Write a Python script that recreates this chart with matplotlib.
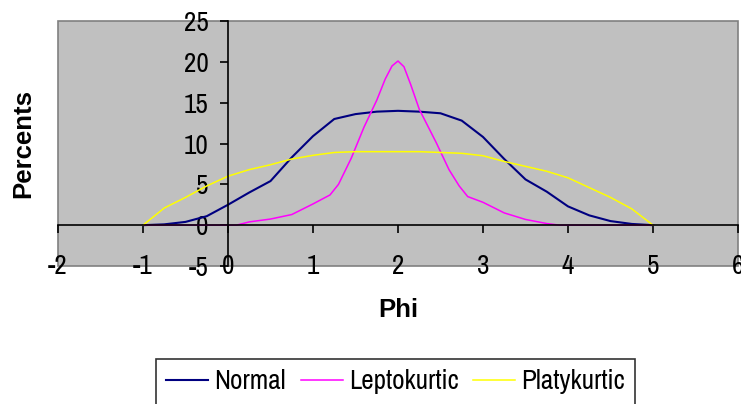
import matplotlib
matplotlib.use("Agg")
import matplotlib.pyplot as plt
from matplotlib import font_manager
from matplotlib.patches import Rectangle

plt.rcParams["axes.unicode_minus"] = False

# values
phi_normal = [-1, -0.75, -0.5, -0.25, 0, 0.25, 0.5, 0.75, 1.0, 1.25, 1.5, 1.75,
              2.0, 2.25, 2.5, 2.75, 3.0, 3.25, 3.5, 3.75, 4.0, 4.25, 4.5, 4.75, 5.0]
normal = [0, 0.1, 0.4, 1.1, 2.5, 4.0, 5.4, 8.3, 10.9, 13.0, 13.6, 13.9,
          14.0, 13.9, 13.7, 12.8, 10.8, 8.1, 5.6, 4.1, 2.3, 1.2, 0.5, 0.15, 0]

phi_lepto = [-1, 0.1, 0.25, 0.5, 0.75, 1.0, 1.2, 1.3, 1.45, 1.6, 1.75, 1.85, 1.93,
             2.0, 2.07, 2.15, 2.25, 2.45, 2.6, 2.72, 2.82, 3.0, 3.25, 3.5, 3.75, 3.9, 5.0]
lepto = [0, 0, 0.4, 0.75, 1.3, 2.6, 3.7, 5.0, 8.2, 12.0, 15.3, 17.9, 19.5,
         20.1, 19.4, 17.2, 14.2, 10.1, 6.8, 4.8, 3.5, 2.8, 1.5, 0.7, 0.2, 0, 0]

phi_platy = phi_normal
platy = [0, 2.1, 3.4, 4.8, 6.0, 6.8, 7.4, 8.1, 8.55, 8.9, 9.0, 9.0,
         9.0, 9.0, 8.9, 8.8, 8.5, 7.8, 7.2, 6.6, 5.8, 4.6, 3.4, 2.0, 0]

x_ticks = [-2, -1, 0, 1, 2, 3, 4, 5, 6]
y_ticks = [-5, 0, 5, 10, 15, 20, 25]

# a narrow sans for ticks and legend, if one is around
names = {f.name for f in font_manager.fontManager.ttflist}
narrow, size = "Liberation Sans", 16.5
for cand in ("Liberation Sans Narrow", "Arial Narrow", "Archivo Narrow"):
    if cand in names:
        narrow, size = cand, 19.5
        break

fig = plt.figure(figsize=(7.41, 4.04), dpi=100)
ax = fig.add_axes([58 / 741, 1 - 266 / 404, 680 / 741, 245 / 404])
ax.set_facecolor("#c0c0c0")

ax.plot(phi_normal, normal, color="#000080", lw=1.5, label="Normal")
ax.plot(phi_lepto, lepto, color="#ff00ff", lw=1.1, label="Leptokurtic")
ax.plot(phi_platy, platy, color="#ffff00", lw=1.1, label="Platykurtic")

ax.set_xlim(-2, 6)
ax.set_ylim(-5, 25)
ax.set_xticks(x_ticks)
ax.set_yticks(y_ticks)

# axes cross at zero, plot area gets a grey frame
for side in ("top", "right"):
    ax.spines[side].set_visible(False)
ax.spines["left"].set_position(("data", 0))
ax.spines["bottom"].set_position(("data", 0))
ax.spines["left"].set_linewidth(1.2)
ax.spines["bottom"].set_linewidth(1.2)
ax.add_patch(Rectangle((0, 0), 1, 1, transform=ax.transAxes, fill=False,
                       edgecolor="#808080", lw=1.2, zorder=0.5, clip_on=False))

ax.tick_params(axis="both", direction="out", length=6, width=1.2,
               labelsize=size, labelfontfamily=narrow, colors="black")
ax.tick_params(axis="x", pad=15)
ax.tick_params(axis="y", pad=8)

fig.text(23 / 741, 1 - 144 / 404, "Percents", rotation=90, ha="center", va="center",
         fontsize=18.5, fontweight="bold", family="Liberation Sans")
fig.text(398 / 741, 1 - 310 / 404, "Phi", ha="center", va="center",
         fontsize=18.5, fontweight="bold", family="Liberation Sans")

leg = fig.legend(loc="upper left", bbox_to_anchor=(156 / 741, 1 - 359 / 404),
                 ncol=3, frameon=True, fancybox=False, edgecolor="black",
                 prop={"family": narrow, "size": size}, handlelength=1.55,
                 handletextpad=0.22, columnspacing=0.55, borderpad=0.38,
                 borderaxespad=0)
leg.get_frame().set_linewidth(1.2)

fig.savefig("out.png", dpi=100)
